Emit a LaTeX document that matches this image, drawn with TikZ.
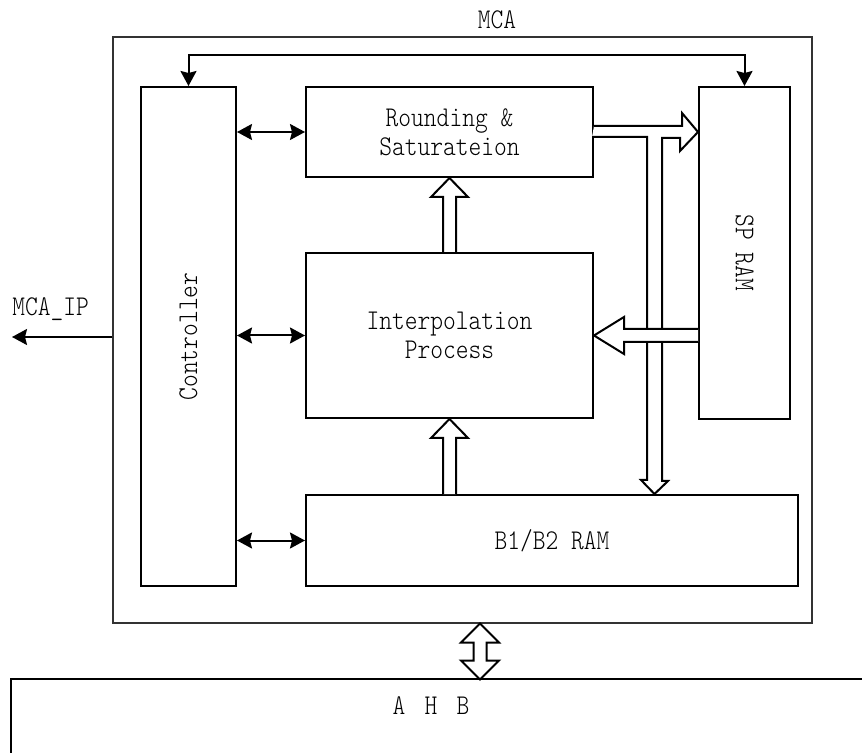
\documentclass[tikz,border=0pt]{standalone}
\usepackage{fontspec}
\newfontfamily\diagfont{lmmonolt10-regular.otf}[FakeStretch=0.85]
\usepackage{tikz}
\usetikzlibrary{positioning, arrows.meta, calc}

% hollow block arrow from #2 (tail) to #3 (tip), #1 = head length
\newcommand{\fatarrow}[3][9.5pt]{%
  \coordinate (fh) at ($(#3)!#1!(#2)$);
  \draw[fat] ($(#2)!3.25pt!90:(#3)$) -- ($(fh)!3.25pt!-90:(#2)$)
    -- ($(fh)!9.25pt!-90:(#2)$) -- (#3) -- ($(fh)!9.25pt!90:(#2)$)
    -- ($(fh)!3.25pt!90:(#2)$) -- ($(#2)!3.25pt!-90:(#3)$);}

\begin{document}
\begin{tikzpicture}[x=0.5pt, y=-0.5pt,
  every node/.style={font=\diagfont\fontsize{14.3}{14.5}\selectfont},
  block/.style={rectangle, draw, line width=1pt, inner sep=0pt, align=center},
  link/.style={{Stealth[length=7.5pt,width=8pt,inset=1pt]}-{Stealth[length=7.5pt,width=8pt,inset=1pt]},
               line width=1pt},
  fat/.style={draw, line width=1pt, fill=white, line join=miter},
]
\useasboundingbox (0,0) rectangle (862,753);

% MCA frame
\node[rectangle, draw=black!80, line width=0.55pt, minimum width=349.5pt, minimum height=293pt]
      (mca) at (462.5,330) {};
\node (mcaname) at (497,20) {MCA};

% Blocks
\node[block, minimum width=47.5pt, minimum height=249.5pt] (ctrl) at (188.5,336.5)
      {\rotatebox{90}{Controller}};
\node[block, minimum width=143.5pt, minimum height=45pt] (rs) at (449.5,132)
      {Rounding \&\\Saturateion};
\node[block, minimum width=143.5pt, minimum height=82.5pt] (ip) at (449.5,335.5)
      {Interpolation\\Process};
\node[block, minimum width=45.5pt, minimum height=166pt] (sp) at (744.5,253)
      {\rotatebox{-90}{SP RAM}};
\node[block, minimum width=246pt, minimum height=45.5pt] (b12) at (552,540.5)
      {B1/B2 RAM};

% AHB bus
\node[minimum width=425.5pt, minimum height=37pt, inner sep=0pt] (ahb) at (436.5,716) {};
\node (ahbname) at (431,706) {A\hspace{9.6pt}H\hspace{9.6pt}B};
\draw[line width=1pt] (ahb.south west) |- (ahb.north east);

% Control arrows
\draw[link] (ctrl.north) -- ++(0,-31) -| (sp.north);
\draw[link] (ctrl.east |- rs.west) -- (rs.west);
\draw[link] (ctrl.east |- ip.west) -- (ip.west);
\draw[link] (ctrl.east |- b12.west) -- (b12.west);

% MCA_IP output
\coordinate (ipout) at (12,337);
\draw[-{Stealth[length=7.5pt,width=8pt,inset=1pt]}, line width=1pt] (mca.west |- ipout) -- (ipout);
\node[anchor=base west, inner sep=0pt] (iplbl) at (12,316) {MCA\_IP};

% Data path: rounding -> SP RAM, branch down to B1/B2 RAM
\coordinate (bustip) at ($(b12.north west)+(349.5,0)$);
\draw[fat] ($(rs.east)+(0,-6)$) -- ++(88,0) -- ++(0,-13) -- (sp.west |- rs.east)
      -- ++(-18,19) -- ++(0,-13) -- ++(-18,0) -- ++(0,343) -- ++(6,0) -- (bustip)
      -- ++(-13.5,-14) -- ++(6,0) -- ++(0,-343) -- ++(-55,0);

% Block arrows
\coordinate (u1) at (b12.north -| ip.south);
\fatarrow{u1}{ip.south}
\fatarrow{ip.north}{rs.south}
\coordinate (spout) at (sp.west |- ip.east);
\fatarrow[15pt]{spout}{ip.east}

% MCA <-> AHB
\coordinate (d1) at ([xshift=8.75pt]mca.south);
\draw[fat] (d1) -- ++(19,19) -- ++(-12.5,0) -- ++(0,18) -- ++(12.5,0) -- ++(-19,19)
      -- ++(-19,-19) -- ++(12.5,0) -- ++(0,-18) -- ++(-12.5,0) -- cycle;

\end{tikzpicture}
\end{document}
